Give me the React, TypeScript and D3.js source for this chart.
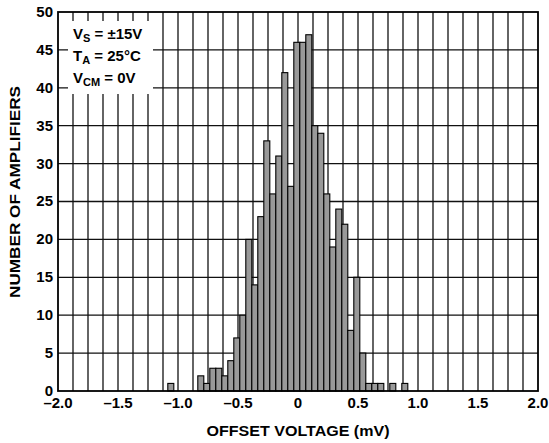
import React from "react";
import * as d3 from "d3";

// Histogram bins (centre of each 0.05 mV bin, mV) and counts
const binCentres = [
  -1.06, -1.01, -0.96, -0.91, -0.86, -0.81, -0.76, -0.71, -0.66, -0.61,
  -0.56, -0.51, -0.46, -0.41, -0.36, -0.31, -0.26, -0.21, -0.16, -0.11,
  -0.06, -0.01, 0.04, 0.09, 0.14, 0.19, 0.24, 0.29, 0.34, 0.39,
  0.44, 0.49, 0.54, 0.59, 0.64, 0.69, 0.74, 0.79, 0.84, 0.89,
];
const amplifierCounts = [
  1, 0, 0, 0, 0, 2, 1, 3, 3, 2,
  4, 7, 10, 20, 14, 23, 33, 26, 31, 42,
  27, 46, 46, 47, 35, 34, 26, 19, 24, 22,
  8, 15, 5, 1, 1, 1, 0, 1, 0, 1,
];
const binWidth = 0.05;

const xTickValues = [-2.0, -1.5, -1.0, -0.5, 0, 0.5, 1.0, 1.5, 2.0];
const xTickLabels = ["–2.0", "–1.5", "–1.0", "–0.5", "0", "0.5", "1.0", "1.5", "2.0"];
const yTickValues = [0, 5, 10, 15, 20, 25, 30, 35, 40, 45, 50];
const xGridStep = 0.125;

const W = 549;
const H = 443;
const L = 58, R = 538, T = 12, B = 391;
const FONT = "'Liberation Sans', Arial, Helvetica, sans-serif";

export default function App() {
  const x = d3.scaleLinear().domain([-2, 2]).range([L, R]);
  const y = d3.scaleLinear().domain([0, 50]).range([B, T]);

  const vGrid = d3.range(1, 32).map((i) => -2 + i * xGridStep);
  const hGrid = yTickValues.filter((v) => v > 0 && v < 50);

  const bars = binCentres
    .map((c, i) => ({ c, n: amplifierCounts[i] }))
    .filter((d) => d.n > 0);

  return (
    <div style={{ position: "absolute", left: 0, top: 0 }}>
      <svg width={W} height={H} style={{ display: "block", background: "#fff" }}>
        <rect x={0} y={0} width={W} height={H} fill="#fff" />
        <g stroke="#111" strokeWidth={1.3}>
          {vGrid.map((v, i) => (
            <line key={"v" + i} x1={x(v)} x2={x(v)} y1={T} y2={B} />
          ))}
          {hGrid.map((v, i) => (
            <line key={"h" + i} x1={L} x2={R} y1={y(v)} y2={y(v)} />
          ))}
        </g>
        <rect x={68} y={21} width={85} height={73} fill="#fff" />
        <g fill="#999999" stroke="#000" strokeWidth={1.1}>
          {bars.map((d, i) => (
            <rect
              key={i}
              x={x(d.c - binWidth / 2)}
              y={y(d.n)}
              width={x(d.c + binWidth / 2) - x(d.c - binWidth / 2)}
              height={y(0) - y(d.n)}
            />
          ))}
        </g>
        <rect x={L} y={T} width={R - L} height={B - T} fill="none" stroke="#000" strokeWidth={1.8} />
        <g fontFamily={FONT} fontWeight="bold" fontSize={15} fill="#000">
          {yTickValues.map((v) => (
            <text key={v} x={L - 5} y={y(v)} dy="0.33em" textAnchor="end">
              {v}
            </text>
          ))}
          {xTickValues.map((v, i) => (
            <text key={v} x={x(v)} y={407.5} textAnchor="middle">
              {xTickLabels[i]}
            </text>
          ))}
          <text
            x={x(0)}
            y={436}
            textAnchor="middle"
            fontSize={14}
            textLength={183}
            lengthAdjust="spacingAndGlyphs"
          >
            OFFSET VOLTAGE (mV)
          </text>
          <text
            transform={`translate(20,192) rotate(-90)`}
            textAnchor="middle"
            fontSize={14}
            textLength={212}
            lengthAdjust="spacingAndGlyphs"
          >
            NUMBER OF AMPLIFIERS
          </text>
          <text x={73} y={39}>
            V<tspan fontSize={11} dy={3}>S</tspan>
            <tspan dy={-3}> = ±15V</tspan>
          </text>
          <text x={73} y={61}>
            T<tspan fontSize={11} dy={3}>A</tspan>
            <tspan dy={-3}> = 25°C</tspan>
          </text>
          <text x={73} y={83}>
            V<tspan fontSize={11} dy={3}>CM</tspan>
            <tspan dy={-3}> = 0V</tspan>
          </text>
        </g>
      </svg>
    </div>
  );
}
